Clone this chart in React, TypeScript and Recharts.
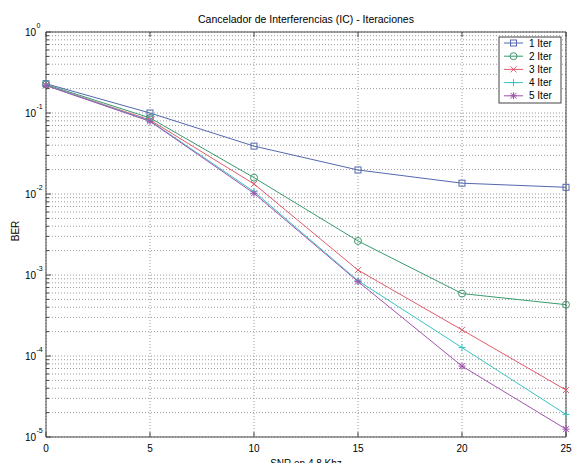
import { LineChart, Line, XAxis, YAxis, CartesianGrid } from 'recharts';

const snr = [0, 5, 10, 15, 20, 25];
const iter1 = [0.23, 0.1, 0.039, 0.0198, 0.0136, 0.0121];
const iter2 = [0.225, 0.087, 0.0159, 0.00263, 0.00059, 0.00043];
const iter3 = [0.22, 0.082, 0.0133, 0.00115, 0.00021, 0.000038];
const iter4 = [0.22, 0.08, 0.0107, 0.00085, 0.000127, 0.000019];
const iter5 = [0.218, 0.079, 0.0102, 0.00083, 0.000075, 0.0000125];

const xTicks = [0, 5, 10, 15, 20, 25];
const decades = [1e-5, 1e-4, 1e-3, 1e-2, 1e-1, 1];
const minorSteps = [2, 3, 4, 5, 6, 7, 8, 9];
const yTicks = decades.flatMap((d, i) =>
  i === decades.length - 1 ? [d] : [d, ...minorSteps.map(m => m * d)]
);

const series = [
  { key: 'i1', name: '1 Iter', values: iter1, color: '#5468ae', marker: 'square' },
  { key: 'i2', name: '2 Iter', values: iter2, color: '#3a9a6c', marker: 'circle' },
  { key: 'i3', name: '3 Iter', values: iter3, color: '#e05a6c', marker: 'x' },
  { key: 'i4', name: '4 Iter', values: iter4, color: '#38c4c4', marker: 'plus' },
  { key: 'i5', name: '5 Iter', values: iter5, color: '#a252ae', marker: 'star' },
];

const chartData = snr.map((x, i) => {
  const row: Record<string, number> = { snr: x };
  series.forEach(s => { row[s.key] = s.values[i]; });
  return row;
});

const AXIS = '#444';
const FONT = '"Liberation Sans", Arial, Helvetica, sans-serif';

function Marker({ kind, cx, cy, color }: { kind: string; cx: number; cy: number; color: string }) {
  if (cx == null || cy == null) return null;
  const s = 3;
  if (kind === 'square')
    return <rect x={cx - s} y={cy - s} width={s * 2} height={s * 2} fill="none" stroke={color} />;
  if (kind === 'circle')
    return <circle cx={cx} cy={cy} r={3.5} fill="none" stroke={color} />;
  const plus = (
    <>
      <line x1={cx - 3.5} x2={cx + 3.5} y1={cy} y2={cy} stroke={color} />
      <line x1={cx} x2={cx} y1={cy - 3.5} y2={cy + 3.5} stroke={color} />
    </>
  );
  const cross = (
    <>
      <line x1={cx - s} x2={cx + s} y1={cy - s} y2={cy + s} stroke={color} />
      <line x1={cx - s} x2={cx + s} y1={cy + s} y2={cy - s} stroke={color} />
    </>
  );
  if (kind === 'plus') return <g>{plus}</g>;
  if (kind === 'x') return <g>{cross}</g>;
  return <g>{plus}{cross}</g>;
}

const LeftTick = ({ x, y, payload }: any) => {
  const v = payload.value;
  const major = decades.includes(v);
  return (
    <g>
      <line x1={x} x2={x + (major ? 5 : 3)} y1={y} y2={y} stroke={AXIS} />
      {major && (
        <>
          <text x={x - 10} y={y + 3.5} textAnchor="end" fontSize={10} fill="#000" fontFamily={FONT}>10</text>
          <text x={x - 9.5} y={y - 4} fontSize={7} fill="#000" fontFamily={FONT}>
            {Math.round(Math.log10(v))}
          </text>
        </>
      )}
    </g>
  );
};

const RightTick = ({ x, y, payload }: any) => {
  const major = decades.includes(payload.value);
  return <line x1={x} x2={x - (major ? 5 : 3)} y1={y} y2={y} stroke={AXIS} />;
};

const BottomTick = ({ x, y, payload }: any) => (
  <g>
    <line x1={x} x2={x} y1={y} y2={y - 5} stroke={AXIS} />
    <text x={x} y={y + 15} textAnchor="middle" fontSize={10} fill="#000" fontFamily={FONT}>
      {payload.value}
    </text>
  </g>
);

const TopTick = ({ x, y }: any) => <line x1={x} x2={x} y1={y} y2={y + 5} stroke={AXIS} />;

export default function App() {
  return (
    <div style={{ position: 'relative', width: 573, height: 463, background: '#fff' }}>
      <style>{'body{margin:0}'}</style>
      <LineChart width={573} height={463} data={chartData} margin={{ top: 0, right: 0, bottom: 0, left: 0 }}>
        <CartesianGrid stroke="#9a9a9a" strokeDasharray="1 2" />
        <XAxis
          dataKey="snr"
          type="number"
          domain={[0, 25]}
          ticks={xTicks}
          interval={0}
          height={26}
          tickSize={0}
          tickMargin={0}
          tickLine={false}
          tick={<BottomTick />}
          axisLine={{ stroke: AXIS }}
        />
        <XAxis
          xAxisId="top"
          orientation="top"
          dataKey="snr"
          type="number"
          domain={[0, 25]}
          ticks={xTicks}
          interval={0}
          height={32}
          tickSize={0}
          tickMargin={0}
          tickLine={false}
          tick={<TopTick />}
          axisLine={{ stroke: AXIS }}
        />
        <YAxis
          scale="log"
          type="number"
          domain={[1e-5, 1]}
          ticks={yTicks}
          interval={0}
          width={46}
          tickSize={0}
          tickMargin={0}
          tickLine={false}
          tick={<LeftTick />}
          axisLine={{ stroke: AXIS }}
        />
        <YAxis
          yAxisId="r"
          orientation="right"
          scale="log"
          type="number"
          domain={[1e-5, 1]}
          ticks={yTicks}
          interval={0}
          width={7}
          tickSize={0}
          tickMargin={0}
          tickLine={false}
          tick={<RightTick />}
          axisLine={{ stroke: AXIS }}
        />
        {series.map(s => (
          <Line
            key={s.key}
            type="linear"
            dataKey={s.key}
            name={s.name}
            stroke={s.color}
            strokeWidth={1}
            isAnimationActive={false}
            activeDot={false}
            dot={(p: any) => <Marker key={`${s.key}-${p.index}`} kind={s.marker} cx={p.cx} cy={p.cy} color={s.color} />}
          />
        ))}
      </LineChart>
      <svg width={573} height={463} style={{ position: 'absolute', left: 0, top: 0, pointerEvents: 'none' }}>
        <text x={306} y={23} textAnchor="middle" fontSize={10.5} fill="#000" fontFamily={FONT}>
          Cancelador de Interferencias (IC) - Iteraciones
        </text>
        <text x={306} y={467} textAnchor="middle" fontSize={10} fill="#000" fontFamily={FONT}>
          SNR en 4.8 Khz
        </text>
        <text x={19} y={231} textAnchor="middle" fontSize={10} fill="#000" fontFamily={FONT} transform="rotate(-90 19 231)">
          BER
        </text>
        <rect x={499} y={37} width={62} height={66} fill="#fff" stroke={AXIS} />
        {series.map((s, i) => {
          const cy = 43 + i * 13.2;
          return (
            <g key={s.key}>
              <line x1={504} x2={523} y1={cy} y2={cy} stroke={s.color} />
              <Marker kind={s.marker} cx={513.5} cy={cy} color={s.color} />
              <text x={529} y={cy + 3.5} fontSize={10} fill="#000" fontFamily={FONT}>{s.name}</text>
            </g>
          );
        })}
      </svg>
    </div>
  );
}
